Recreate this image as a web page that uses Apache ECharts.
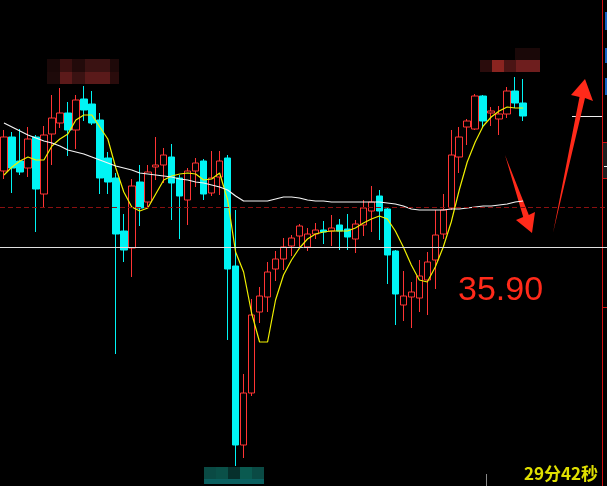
<!DOCTYPE html>
<html>
<head>
<meta charset="utf-8">
<style>
html,body{margin:0;padding:0;background:#000;}
#c{width:607px;height:486px;}
</style>
<script src="https://cdn.jsdelivr.net/npm/echarts@6/dist/echarts.min.js"></script>
</head>
<body>
<div id="c"></div>
<script>
// ---- data ----
const categories = Array.from({length: 76}, (_, i) => 'K' + (i + 1));
const opens = [36.66,37.00,36.76,36.69,37.00,36.43,37.03,37.14,37.24,37.07,37.38,37.33,37.17,36.79,36.59,36.06,35.89,36.55,36.35,36.70,36.72,36.80,36.59,36.37,36.66,36.76,36.44,36.60,36.79,35.71,33.92,34.44,35.25,35.40,35.68,35.78,35.91,36.01,35.90,36.03,36.07,36.06,36.12,36.08,35.98,36.12,36.26,36.41,36.28,35.86,35.32,35.40,35.39,35.57,35.77,36.03,36.29,36.80,37.10,37.08,37.41,37.24,37.18,37.23,37.46,37.34];
const closes = [37.00,36.69,36.65,36.98,36.48,37.02,37.19,37.24,37.07,37.37,37.27,37.14,36.59,36.55,36.03,35.87,36.51,36.29,36.65,36.72,36.82,36.54,36.41,36.66,36.74,36.43,36.59,36.76,35.68,33.92,34.44,35.22,35.41,35.65,35.78,35.90,35.99,36.11,36.03,36.07,36.05,36.09,36.06,36.00,36.13,36.29,36.35,36.26,35.82,35.43,35.41,35.45,35.61,35.75,36.02,36.27,36.82,37.00,37.16,37.41,37.16,37.26,37.23,37.46,37.34,37.21];
const lows = [36.58,36.44,36.62,36.60,36.05,36.30,36.72,37.09,36.81,36.88,37.16,37.12,36.43,36.43,34.83,35.75,35.60,36.11,36.29,36.57,36.54,36.17,35.98,36.12,36.50,36.37,36.41,36.42,34.97,33.71,33.79,34.41,35.14,35.25,35.56,35.67,35.81,35.90,35.86,35.98,35.93,35.91,35.87,35.87,35.84,36.01,36.05,35.97,35.53,35.12,35.16,35.09,35.25,35.22,35.48,35.98,36.27,36.64,36.92,37.07,37.10,37.11,37.02,37.19,37.29,37.16];
const highs = [37.07,37.05,37.08,37.10,37.02,37.11,37.42,37.49,37.35,37.42,37.51,37.46,37.24,36.85,36.64,36.23,36.58,36.72,36.72,37.00,36.89,36.93,36.62,36.69,36.79,36.78,36.86,36.86,36.82,36.27,34.63,35.38,35.50,35.75,35.86,35.99,36.02,36.13,36.09,36.14,36.16,36.22,36.18,36.23,36.17,36.37,36.51,36.47,36.29,35.87,35.66,35.55,35.77,35.85,36.27,36.43,37.07,37.10,37.18,37.43,37.42,37.30,37.31,37.50,37.60,37.58];
const maShort = [36.62,36.70,36.76,36.80,36.77,36.77,36.91,36.98,37.03,37.17,37.22,37.22,37.10,36.98,36.69,36.45,36.30,36.26,36.29,36.43,36.57,36.61,36.63,36.64,36.63,36.57,36.58,36.64,36.37,35.85,35.65,35.24,34.95,34.95,35.37,35.62,35.77,35.89,35.98,36.03,36.05,36.06,36.06,36.06,36.09,36.14,36.18,36.21,36.18,36.06,35.90,35.72,35.57,35.55,35.70,35.90,36.15,36.47,36.75,36.95,37.11,37.20,37.26,37.30,37.29,37.29];
const maLong = [37.14,37.10,37.06,37.02,36.99,36.96,36.94,36.91,36.87,36.85,36.83,36.80,36.77,36.74,36.71,36.69,36.67,36.64,36.63,36.62,36.61,36.60,36.58,36.57,36.55,36.54,36.52,36.50,36.47,36.41,36.36,36.36,36.36,36.36,36.38,36.40,36.40,36.39,36.37,36.36,36.36,36.35,36.35,36.35,36.35,36.35,36.35,36.35,36.34,36.33,36.31,36.28,36.27,36.27,36.27,36.27,36.28,36.28,36.29,36.30,36.31,36.31,36.32,36.33,36.35,36.36];
const markPrice = 35.90;
const refPrice = 36.30;
const priceLabel = '35.90';
const timerLabel = '29分42秒';

const candleData = opens.map((o, i) => [o, closes[i], lows[i], highs[i]]);

const chart = echarts.init(document.getElementById('c'), null, {renderer: 'canvas'});

function blocks(list) {
  return list.map(b => ({type: 'rect', shape: {x: b[0], y: b[1], width: b[2], height: b[3]}, style: {fill: b[4]}, silent: true}));
}

const option = {
  backgroundColor: '#000000',
  animation: false,
  grid: {left: -1, top: 0, width: 608, height: 486, containLabel: false},
  xAxis: {
    type: 'category', data: categories, boundaryGap: true,
    axisLine: {show: false}, axisTick: {show: false}, axisLabel: {show: false}, splitLine: {show: false}
  },
  yAxis: {
    type: 'value', min: 33.51, max: 38.37, scale: true,
    axisLine: {show: false}, axisTick: {show: false}, axisLabel: {show: false}, splitLine: {show: false}
  },
  series: [
    {
      type: 'candlestick', data: candleData, barWidth: 7,
      itemStyle: {color: '#000000', color0: '#00f4f4', borderColor: '#ff3434', borderColor0: '#00f4f4', borderWidth: 1},
      markLine: {
        silent: true, symbol: 'none', animation: false,
        label: {show: false},
        data: [
          {yAxis: markPrice, lineStyle: {color: '#e0e0e0', width: 1, type: 'solid'}},
          {yAxis: refPrice, lineStyle: {color: '#8a1010', width: 1, type: [5, 3]}}
        ]
      }
    },
    {
      type: 'line', data: maShort, symbol: 'none', smooth: false,
      lineStyle: {color: '#f0f000', width: 1.2}, silent: true, z: 3
    },
    {
      type: 'line', data: maLong, symbol: 'none', smooth: false,
      lineStyle: {color: '#f4f4f4', width: 1.2}, silent: true, z: 3
    }
  ],
  graphic: [].concat(
    blocks([
      [47, 59, 13, 13, '#1a0808'], [60, 59, 12, 13, '#3a1010'], [72, 59, 13, 13, '#220a0a'], [85, 59, 25, 13, '#3a1212'], [110, 59, 9, 13, '#1e0909'],
      [47, 72, 13, 12, '#1e0a0a'], [60, 72, 12, 12, '#5c1a1a'], [72, 72, 13, 12, '#3a1212'], [85, 72, 25, 12, '#5a1a1a'], [110, 72, 9, 12, '#2a0c0c'],
      [515, 48, 25, 12, '#1a0808'],
      [480, 60, 12, 12, '#2a0c0c'], [492, 60, 12, 12, '#8a2420'], [504, 60, 12, 12, '#4a1414'], [516, 60, 24, 12, '#6e1e1e'],
      [204, 467, 12, 12, '#0a4a44'], [216, 467, 12, 12, '#0a5048'], [228, 467, 12, 12, '#06302c'], [240, 467, 12, 12, '#0a5a50'], [252, 467, 12, 12, '#0a4a44'],
      [204, 479, 60, 5, '#0a6060'],
      [605, 12, 2, 18, '#1560c0'], [605, 48, 2, 15, '#1560c0'], [605, 78, 2, 17, '#1560c0'],
      [603, 142, 4, 36, '#1e1e1e']
    ]),
    [
      {type: 'line', shape: {x1: 602.5, y1: 0, x2: 602.5, y2: 486}, style: {stroke: '#d01010', lineWidth: 1}, silent: true},
      {type: 'line', shape: {x1: 602, y1: 142.5, x2: 607, y2: 142.5}, style: {stroke: '#d01010', lineWidth: 1}, silent: true},
      {type: 'line', shape: {x1: 602, y1: 178.5, x2: 607, y2: 178.5}, style: {stroke: '#d01010', lineWidth: 1}, silent: true},
      {type: 'line', shape: {x1: 602, y1: 307.5, x2: 607, y2: 307.5}, style: {stroke: '#d01010', lineWidth: 1}, silent: true},
      {type: 'line', shape: {x1: 572, y1: 116.5, x2: 602, y2: 116.5}, style: {stroke: '#f0f0f0', lineWidth: 1}, silent: true},
      {type: 'line', shape: {x1: 604, y1: 166.5, x2: 607, y2: 166.5}, style: {stroke: '#f0f0f0', lineWidth: 1}, silent: true},
      {type: 'line', shape: {x1: 486.5, y1: 474, x2: 486.5, y2: 486}, style: {stroke: '#888888', lineWidth: 1}, silent: true},
      {type: 'polygon', shape: {points: [[505, 155], [528.8, 215], [535, 212], [532, 233], [516, 220], [523.2, 217]]}, style: {fill: '#ff2a1a'}, silent: true},
      {type: 'polygon', shape: {points: [[553, 233], [579.5, 97], [571, 95], [585, 79], [593, 101], [585, 98]]}, style: {fill: '#ff2a1a'}, silent: true},
      {type: 'text', left: 458, top: 274, style: {text: priceLabel, fill: '#ff2a1a', font: '34px "Liberation Sans", Arial, sans-serif'}, silent: true},
      {type: 'text', left: 524, top: 465, style: {text: timerLabel, fill: '#e0e000', font: 'bold 17px "Noto Sans CJK SC", "Liberation Sans", sans-serif'}, silent: true}
    ]
  )
};
chart.setOption(option);
</script>
</body>
</html>
